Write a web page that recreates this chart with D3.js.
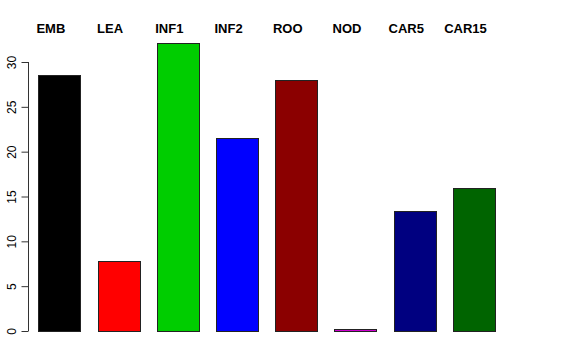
<!DOCTYPE html>
<html>
<head>
    <script src="https://d3js.org/d3.v7.min.js"></script>
    <style>
        body { margin: 0; background: #fff; }
        .axis text { font-family: "Liberation Sans", Arial, sans-serif; font-size: 12px; }
        .axis path, .axis line { stroke: #333; }
        .bar-label { font-family: "Liberation Sans", Arial, sans-serif; font-size: 13px; font-weight: bold; text-anchor: middle; }
    </style>
</head>
<body>
<div id="chart"></div>
<script>
    // categories and values
    const categories = ["EMB", "LEA", "INF1", "INF2", "ROO", "NOD", "CAR5", "CAR15"];
    const values = [28.5, 7.8, 32.1, 21.5, 27.95, 0.25, 13.4, 15.95];
    const colors = ["#000000", "#ff0000", "#00cd00", "#0000ff", "#8b0000", "#cd00cd", "#000080", "#006400"];
    const yTicks = [0, 5, 10, 15, 20, 25, 30];

    const W = 576, H = 360;

    const svg = d3.select("#chart").append("svg")
        .attr("width", W)
        .attr("height", H);

    const x = d3.scaleBand()
        .domain(categories)
        .range([38.3, 495])
        .paddingInner(0.29)
        .paddingOuter(0);

    const y = d3.scaleLinear()
        .domain([0, 30])
        .range([331, 62]);

    // bars
    svg.selectAll("rect.bar")
        .data(categories)
        .enter()
        .append("rect")
        .attr("class", "bar")
        .attr("x", d => Math.round(x(d)) + 0.5)
        .attr("y", (d, i) => Math.round(y(values[i])) + 0.5)
        .attr("width", Math.round(x.bandwidth()))
        .attr("height", (d, i) => Math.round(y(0)) - Math.round(y(values[i])))
        .attr("fill", (d, i) => colors[i])
        .attr("stroke", "#222")
        .attr("stroke-width", 1);

    // labels above the plot
    svg.selectAll("text.bar-label")
        .data(categories)
        .enter()
        .append("text")
        .attr("class", "bar-label")
        .attr("x", d => x(d) + x.bandwidth() / 2 - 8.5)
        .attr("y", 33)
        .text(d => d);

    // y axis, R style
    const yAxis = svg.append("g")
        .attr("class", "axis")
        .attr("transform", "translate(28.5,0)")
        .call(d3.axisLeft(y).tickValues(yTicks).tickSize(7).tickSizeOuter(0));

    yAxis.select(".domain").attr("d", `M0,${y(30)}V${y(0)}`);

    // rotated tick labels
    yAxis.selectAll(".tick text")
        .attr("transform", "rotate(-90)")
        .attr("x", 0)
        .attr("y", -13)
        .attr("dy", 0)
        .attr("text-anchor", "middle");
</script>
</body>
</html>
